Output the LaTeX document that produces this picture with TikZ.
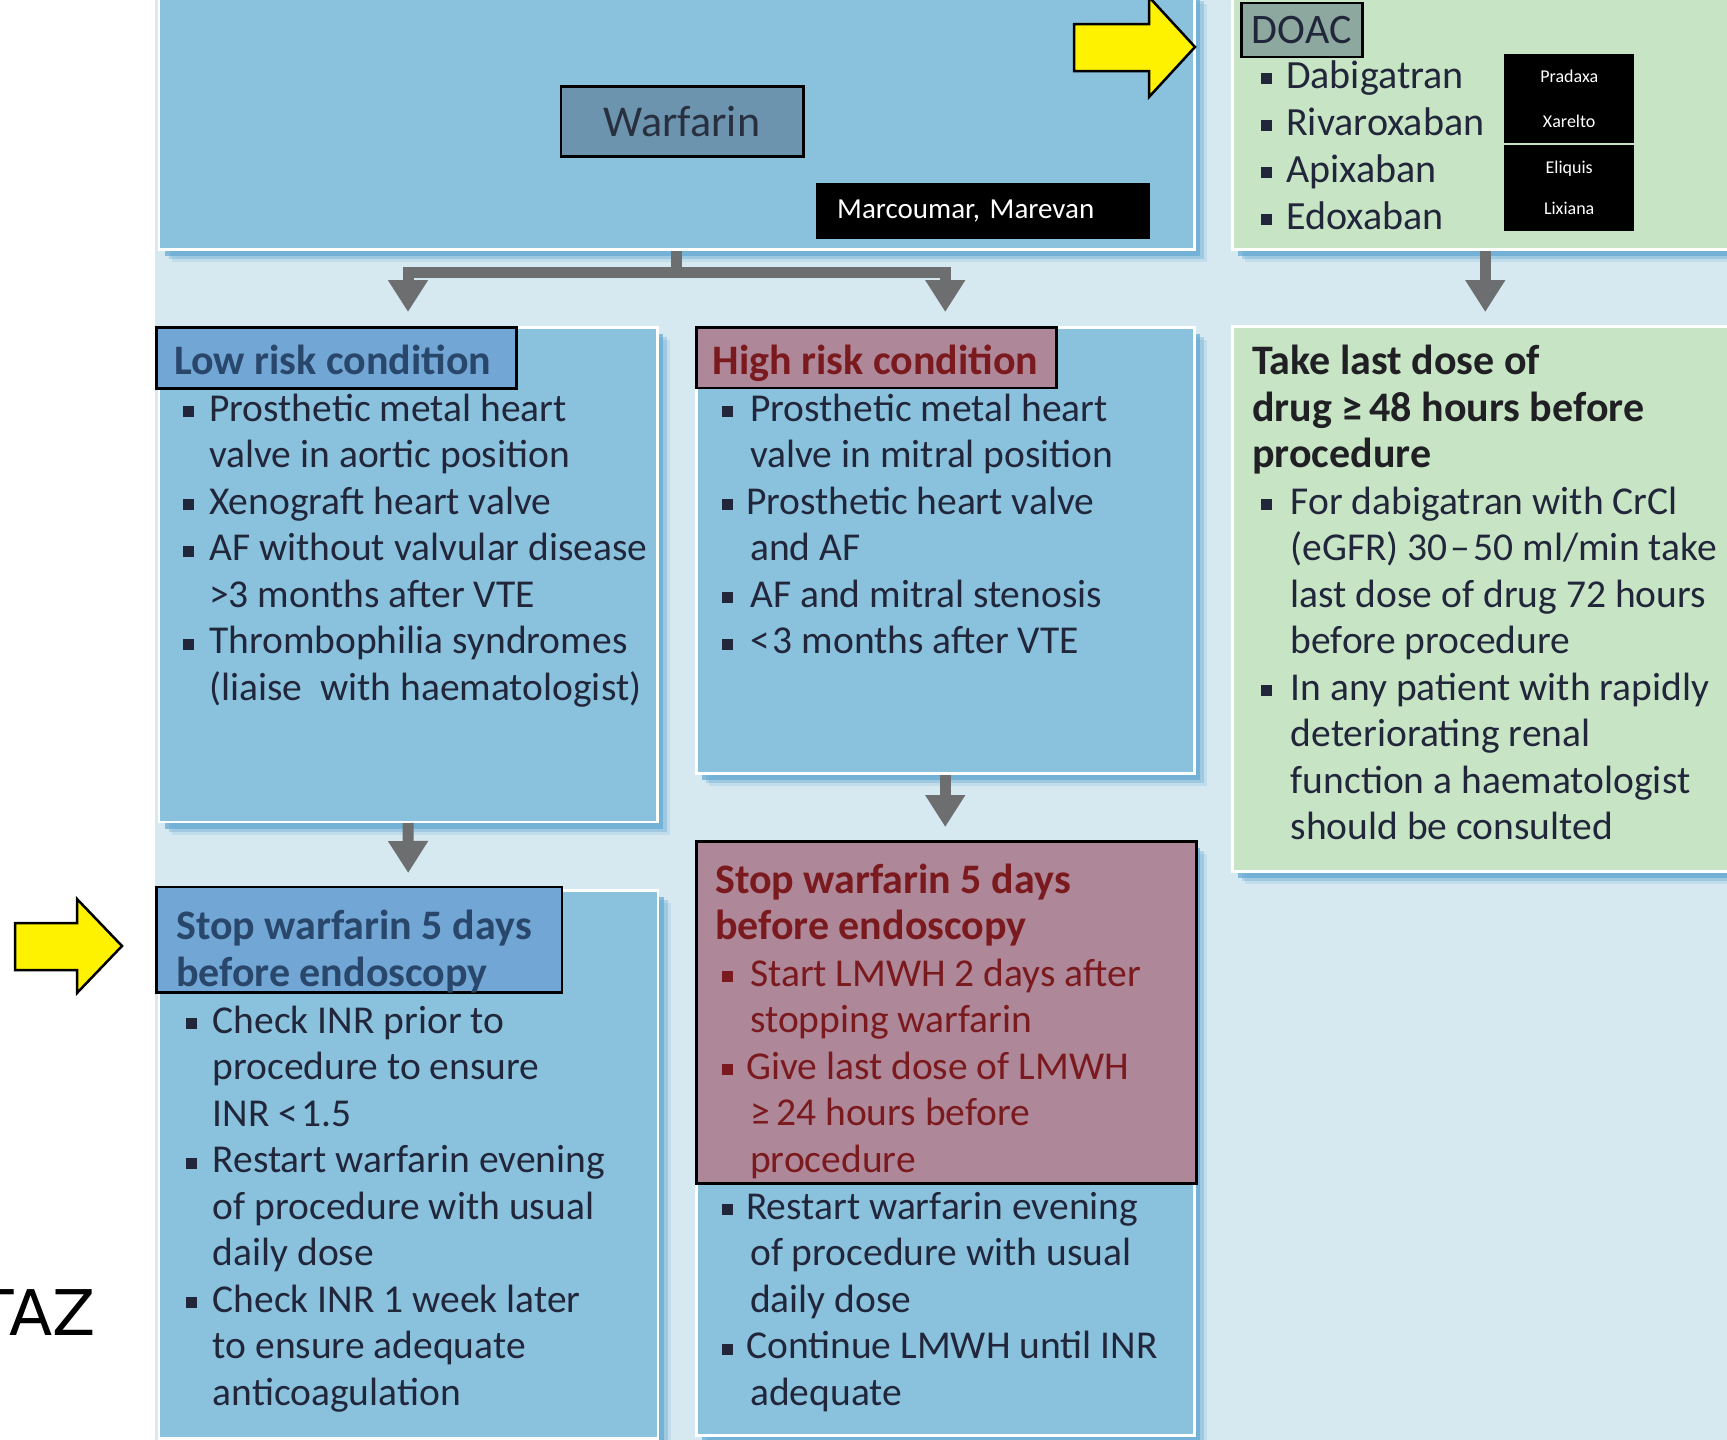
\documentclass[tikz,border=0pt]{standalone}
\usepackage{fontspec}
\setmainfont{Carlito}
\newfontfamily\tazfont{DejaVu Sans}
\usetikzlibrary{arrows.meta,shadows}
\definecolor{bgblue}{HTML}{D6E8F0}
\definecolor{panelblue}{HTML}{8AC2DE}
\definecolor{panelgreen}{HTML}{C7E4C5}
\definecolor{shadowblue}{HTML}{62A8D2}
\definecolor{warflab}{HTML}{6C94AE}
\definecolor{doaclab}{HTML}{8DA89E}
\definecolor{lowlab}{HTML}{72A6D4}
\definecolor{mauve}{HTML}{AE8798}
\definecolor{arrowgray}{HTML}{6D6E70}
\definecolor{txt}{HTML}{21263A}
\definecolor{redtxt}{HTML}{7A1A1E}
\definecolor{bluetitle}{HTML}{29466B}
\definecolor{warftxt}{HTML}{28303F}
\definecolor{blacktxt}{HTML}{1F1F24}
\newcommand\bodyfont{\fontsize{39.5}{46.5}\selectfont}
\newcommand\titlefont{\fontsize{42}{46.5}\selectfont\bfseries}
\newcommand\fl{\rule{0pt}{33pt}}
\newcommand\bitem[1]{\makebox[#1][l]{\raisebox{4pt}{\rule{11pt}{11pt}}}}
\newcommand\ind[1]{\hspace*{#1}}
\begin{document}
\begin{tikzpicture}[x=1pt,y=-1pt,
  panel/.style={draw=white, line width=2.5pt, inner sep=0pt, anchor=north west,
    general shadow={shadow xshift=13pt, shadow yshift=-13pt, fill=shadowblue, opacity=.18},
    general shadow={shadow xshift=10pt, shadow yshift=-10pt, fill=shadowblue, opacity=.35},
    general shadow={shadow xshift=6pt, shadow yshift=-7pt, fill=shadowblue, opacity=.7}},
  lab/.style={draw=black, line width=2.5pt, inner sep=0pt, anchor=north west},
  listtxt/.style={anchor=north west, inner sep=0pt, align=left, font=\bodyfont, text=txt},
  titletxt/.style={anchor=north west, inner sep=0pt, align=left, font=\titlefont},
  conn/.style={draw=arrowgray, line width=11pt, line join=miter, -{Triangle[width=38pt,length=32pt]}},
  stem/.style={draw=arrowgray, line width=11pt},
  yarrow/.style={fill=yellow, draw=black, line width=2.5pt, line join=miter}]
\useasboundingbox (0,0) rectangle (1727,1440);
\clip (0,0) rectangle (1727,1440);
\fill[white] (0,0) rectangle (1727,1440);
\fill[bgblue] (155,0) rectangle (1727,1440);

% panels
\node[panel, fill=panelblue, minimum width=1035.5pt, minimum height=258pt] (top) at (157.5,-10) {};
\node[panel, fill=panelgreen, minimum width=506pt, minimum height=258pt] (doac) at (1231,-10) {};
\node[panel, fill=panelblue, minimum width=498.5pt, minimum height=494.5pt] (lowp) at (157.5,326) {};
\node[panel, fill=panelblue, minimum width=498pt, minimum height=446pt] (highp) at (695,326) {};
\node[panel, fill=panelgreen, minimum width=506pt, minimum height=545pt] (take) at (1231,325) {};
\node[panel, fill=panelblue, minimum width=499pt, minimum height=548pt] (lowstop) at (157.5,889) {};
\node[panel, fill=panelblue, minimum width=498pt, minimum height=594pt] (highstop) at (695,840) {};

% connectors
\coordinate (j) at ([yshift=-22pt]top.south);
\draw[stem] (top.south) -- (j);
\draw[conn, shorten >=14pt] (j) -| (lowp.north);
\draw[conn, shorten >=14pt] (j) -| (highp.north);
\draw[conn, shorten >=13pt] (doac.south) -- (take.north);
\draw[conn, shorten >=16pt] (lowp.south) -- (lowstop.north);
\draw[conn, shorten >=13pt] (highp.south) -- (highstop.north);

% top row
\node[lab, fill=warflab, minimum width=242.5pt, minimum height=70pt, text=warftxt,
  font=\fontsize{44}{50}\selectfont] (warf) at (559.5,85) {Warfarin};
\node[anchor=north west, fill=black, minimum width=334pt, minimum height=56pt, text width=292pt,
  inner xsep=21pt, inner ysep=0pt, align=left, text=white, font=\fontsize{29}{34}\selectfont]
  (marc) at (816,183) {Marcoumar, Marevan};
\node[lab, fill=doaclab, minimum width=121pt, minimum height=54pt, text=txt,
  font=\fontsize{42}{48}\selectfont] (doaclab) at (1240,1.5) {DOAC};
\node[listtxt, font=\fontsize{40}{47}\selectfont] (doaclist) at (1261,55)
  {\fl\bitem{25pt}Dabigatran\\ \bitem{25pt}Rivaroxaban\\ \bitem{25pt}Apixaban\\ \bitem{25pt}Edoxaban};
\node[anchor=north west, fill=black, minimum width=130pt, minimum height=89pt, inner sep=0pt,
  align=center, text=white, font=\fontsize{18}{45}\selectfont] (brand1) at (1504,54) {Pradaxa\\Xarelto};
\node[anchor=north west, fill=black, minimum width=130pt, minimum height=86pt, inner sep=0pt,
  align=center, text=white, font=\fontsize{18}{41}\selectfont] (brand2) at (1504,144.5) {Eliquis\\Lixiana};

% low risk
\node[lab, fill=lowlab, minimum width=360pt, minimum height=61pt] (lowlab) at (155,326) {};
\node[anchor=base west, inner sep=0pt, font=\titlefont, text=bluetitle] (lowlabt) at (174,374.5) {Low risk condition};
\node[listtxt] (lowlist) at (183,388) {\fl\bitem{26pt}Prosthetic metal heart\\
  \ind{26pt}valve in aortic position\\
  \bitem{26pt}Xenograft heart valve\\
  \bitem{26pt}AF without valvular disease\\
  \ind{26pt}>3 months after VTE\\
  \bitem{26pt}Thrombophilia syndromes\\
  \ind{26pt}(liaise\ \ with haematologist)};

% high risk
\node[lab, fill=mauve, minimum width=360pt, minimum height=60.5pt] (highlab) at (695,326) {};
\node[anchor=base west, inner sep=0pt, font=\titlefont, text=redtxt] (highlabt) at (712.6,374.5) {High risk condition};
\node[listtxt] (highlist) at (722,388) {\fl\bitem{28pt}Prosthetic metal heart\\
  \ind{28pt}valve in mitral position\\
  \bitem{24pt}Prosthetic heart valve\\
  \ind{28pt}and AF\\
  \bitem{28pt}AF and mitral stenosis\\
  \bitem{28pt}<\kern3pt3 months after VTE};

% DOAC lower
\node[titletxt, text=blacktxt] (taket) at (1252,341.5) {\fl Take last dose of\\
  drug ≥\,48 hours before\\ procedure};
\node[listtxt] (takelist) at (1260.6,481) {\fl\bitem{30pt}For dabigatran with CrCl\\
  \ind{30pt}(eGFR) 30\kern3pt–\kern3pt50 ml/min take\\
  \ind{30pt}last dose of drug 72 hours\\
  \ind{30pt}before procedure\\
  \bitem{30pt}In any patient with rapidly\\
  \ind{30pt}deteriorating renal\\
  \ind{30pt}function a haematologist\\
  \ind{30pt}should be consulted};

% low stop
\node[lab, fill=lowlab, minimum width=405.6pt, minimum height=105.5pt] (lowstoplab) at (155,885.5) {};
\node[titletxt, text=bluetitle] (lowstopt) at (176,906.5) {\fl Stop warfarin 5 days\\ before endoscopy};
\node[listtxt] (lowstoplist) at (185.6,1000) {\fl\bitem{27pt}Check INR prior to\\
  \ind{27pt}procedure to ensure\\
  \ind{27pt}INR <\kern3pt1.5\\
  \bitem{27pt}Restart warfarin evening\\
  \ind{27pt}of procedure with usual\\
  \ind{27pt}daily dose\\
  \bitem{27pt}Check INR 1 week later\\
  \ind{27pt}to ensure adequate\\
  \ind{27pt}anticoagulation};

% high stop
\node[lab, fill=mauve, minimum width=500pt, minimum height=342pt] (mauvebox) at (695,840) {};
\node[titletxt, text=redtxt] (highstopt) at (715,860) {\fl Stop warfarin 5 days\\ before endoscopy};
\node[listtxt, text=redtxt] (mauvelist) at (722,953) {\fl\bitem{28pt}Start LMWH 2 days after\\
  \ind{28pt}stopping warfarin\\
  \bitem{24pt}Give last dose of LMWH\\
  \ind{28pt}≥\,24 hours before\\
  \ind{28pt}procedure};
\node[listtxt] (highstoplist) at (722,1186) {\fl\bitem{24pt}Restart warfarin evening\\
  \ind{28pt}of procedure with usual\\
  \ind{28pt}daily dose\\
  \bitem{24pt}Continue LMWH until INR\\
  \ind{28pt}adequate};

% yellow pointers
\draw[yarrow] (1074,24) -- (1149,24) -- (1149,-3) -- (1195,47) -- (1149,97) -- (1149,71) -- (1074,71) -- cycle;
\draw[yarrow] (15,923) -- (77,923) -- (77,899) -- (122,946) -- (77,993) -- (77,970) -- (15,970) -- cycle;

\node[anchor=base east, inner sep=0pt, font=\tazfont\fontsize{63}{70}\selectfont] (taz) at (96,1335) {TAZ};
\end{tikzpicture}
\end{document}
